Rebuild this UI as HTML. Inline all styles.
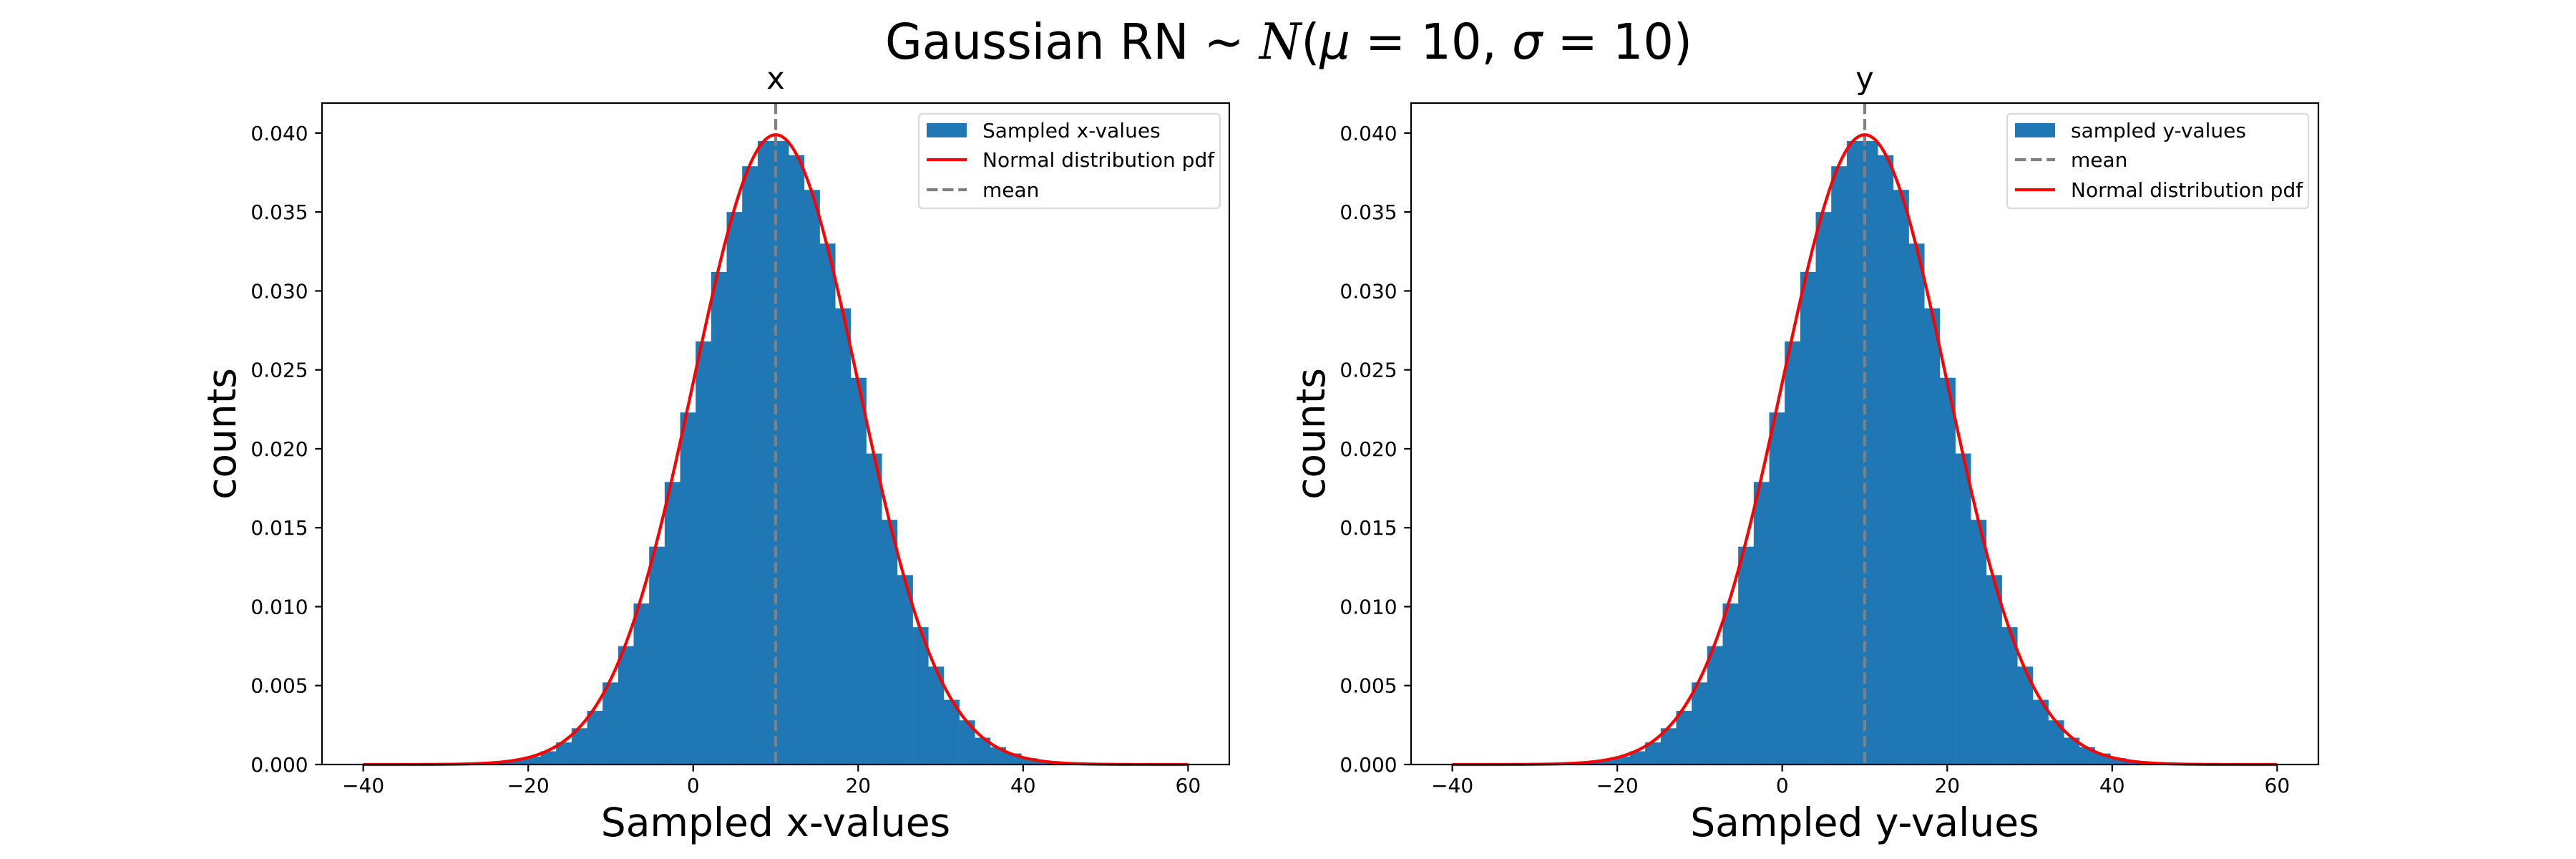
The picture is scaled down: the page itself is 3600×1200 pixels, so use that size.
<!DOCTYPE html>
<html><head><meta charset="utf-8">
<style>
html,body{margin:0;padding:0;background:#fff;}
svg{display:block;font-family:"DejaVu Sans","Liberation Sans",sans-serif;}
</style></head>
<body>
<svg id="fig" width="3600" height="1200" viewBox="0 0 3600 1200" xmlns="http://www.w3.org/2000/svg">
<rect x="0" y="0" width="3600" height="1200" fill="#fff"/>
<text x="1801" y="82" font-size="69" text-anchor="middle" textLength="1128" lengthAdjust="spacingAndGlyphs">Gaussian RN ~ <tspan font-family="DejaVu Serif, serif" font-style="italic">N</tspan>(<tspan font-style="italic">μ</tspan> = 10, <tspan font-style="italic">σ</tspan> = 10)</text>
</svg>
<script>
// ---- data ----
const binStart = -29.78;
const binWidth = 1.88;
const xHeights = [0.00003,0.00005,0.0001,0.00015,0.0003,
 0.0005,0.00084,0.0014,0.0023,0.0034,0.0052,0.0075,0.0102,0.0138,0.0179,0.0223,0.0268,0.0312,0.0350,0.0379,0.0395,0.0395,0.0386,0.0364,0.0330,0.0289,0.0245,0.0197,0.0155,0.0120,0.0087,0.0062,0.0041,0.0028,0.0017,0.0011,0.0007,0.0004,
 0.0002,0.00012,0.00007,0.00004,0.00002];
const yHeights = [0.00003,0.00005,0.0001,0.00015,0.0003,
 0.0005,0.00084,0.0014,0.0023,0.0034,0.0052,0.0075,0.0102,0.0138,0.0179,0.0223,0.0268,0.0312,0.0350,0.0379,0.0395,0.0395,0.0386,0.0364,0.0330,0.0289,0.0245,0.0197,0.0155,0.0120,0.0087,0.0062,0.0041,0.0028,0.0017,0.0011,0.0007,0.0004,
 0.0002,0.00012,0.00007,0.00004,0.00002];
const mu = [10];
const sigma = [10];
const pdfRange = [-40, 60];
const xTicks = [-40,-20,0,20,40,60];
const xTickLabels = ["\u221240","\u221220","0","20","40","60"];
const yTicks = [0,0.005,0.01,0.015,0.02,0.025,0.03,0.035,0.04];
const yTickLabels = ["0.000","0.005","0.010","0.015","0.020","0.025","0.030","0.035","0.040"];
const xDomain = [-45, 65];
const yDomain = [0, 0.0419];

const NS = "http://www.w3.org/2000/svg";
const fig = document.getElementById('fig');
function mk(tag, attrs, parent){
  const e = document.createElementNS(NS, tag);
  for (const k in attrs) e.setAttribute(k, attrs[k]);
  (parent||fig).appendChild(e);
  return e;
}

function panel(cfg){
  const L = cfg.left, R = cfg.left + 1268, T = 144, B = 1068;
  const sx = v => L + (v - xDomain[0]) / (xDomain[1]-xDomain[0]) * (R-L);
  const sy = v => B - (v - yDomain[0]) / (yDomain[1]-yDomain[0]) * (B-T);
  const g = mk('g', {});
  
  
  cfg.heights.forEach((h, i) => {
    const x0 = binStart + i*binWidth, x1 = x0 + binWidth;
    const r = mk('rect', {x: sx(x0), y: sy(h), width: sx(x1)-sx(x0)+0.3, height: B - sy(h), fill: '#1f77b4'}, g);
    
    
  });
  const ml = mk('line', {x1: sx(mu[0]), x2: sx(mu[0]), y1: T, y2: B, stroke: '#808080', 'stroke-width': 4.2, 'stroke-dasharray': '15.4 6.7'}, g);
  
  
  let d = '';
  const n = 400;
  for (let i = 0; i <= n; i++){
    const v = pdfRange[0] + (pdfRange[1]-pdfRange[0]) * i / n;
    const p = Math.exp(-0.5*Math.pow((v-mu[0])/sigma[0],2)) / (sigma[0]*Math.sqrt(2*Math.PI));
    d += (i ? 'L' : 'M') + sx(v).toFixed(2) + ',' + sy(p).toFixed(2);
  }
  const pl = mk('path', {d: d, fill: 'none', stroke: '#ff0000', 'stroke-width': 4.2, 'stroke-linejoin': 'round'}, g);
  
  
  const sp = mk('rect', {x: L, y: T, width: R-L, height: B-T, fill: 'none', stroke: '#000', 'stroke-width': 2.2}, g);
  
  
  xTicks.forEach((t, i) => {
    mk('line', {x1: sx(t), x2: sx(t), y1: B, y2: B+9.7, stroke: '#000', 'stroke-width': 2.2}, g);
    const tx = mk('text', {x: sx(t), y: 1107, 'font-size': 28, 'text-anchor': 'middle'}, g);
    
    
    tx.textContent = xTickLabels[i];
  });
  yTicks.forEach((t, i) => {
    mk('line', {x1: L-9.7, x2: L, y1: sy(t), y2: sy(t), stroke: '#000', 'stroke-width': 2.2}, g);
    const ty = mk('text', {x: L-19.4, y: sy(t)+10, 'font-size': 28, 'text-anchor': 'end'}, g);
    
    
    ty.textContent = yTickLabels[i];
  });
  const xl = mk('text', {x: (L+R)/2, y: 1168, 'font-size': 55, 'text-anchor': 'middle'}, g);
  
  
  xl.textContent = cfg.xlabel;
  const yl = mk('text', {x: 0, y: 0, 'font-size': 55, 'text-anchor': 'middle', transform: 'translate(' + (cfg.left-121) + ',' + ((T+B)/2) + ') rotate(-90)'}, g);
  
  
  yl.textContent = 'counts';
  const tt = mk('text', {x: (L+R)/2, y: 124, 'font-size': 43, 'text-anchor': 'middle'}, g);
  
  
  tt.textContent = cfg.title;
  const lg = mk('g', {}, g);
  
  
  mk('rect', {x: cfg.legX, y: 159, width: cfg.legW, height: 132, rx: 5, fill: '#fff', 'fill-opacity': 0.8, stroke: '#d9d9d9', 'stroke-width': 2.2}, lg);
  const rows = [182, 223, 265];
  cfg.legend.forEach((it, i) => {
    const hx = cfg.legX + 11, cy = rows[i];
    if (it.kind === 'patch') mk('rect', {x: hx, y: cy-10, width: 56, height: 20, fill: '#1f77b4'}, lg);
    else if (it.kind === 'red') mk('line', {x1: hx, x2: hx+56, y1: cy, y2: cy, stroke: '#ff0000', 'stroke-width': 4.2}, lg);
    else mk('line', {x1: hx, x2: hx+56, y1: cy, y2: cy, stroke: '#808080', 'stroke-width': 4.2, 'stroke-dasharray': '15.4 6.7'}, lg);
    const lt = mk('text', {x: hx+78, y: cy+10, 'font-size': 28}, lg);
    
    
    lt.textContent = it.label;
  });
}

panel({name: 'x', left: 450, heights: xHeights, xlabel: 'Sampled x-values', title: 'x', legX: 1284, legW: 421,
  legend: [{kind:'patch', label:'Sampled x-values'},{kind:'red', label:'Normal distribution pdf'},{kind:'dash', label:'mean'}]});
panel({name: 'y', left: 1972, heights: yHeights, xlabel: 'Sampled y-values', title: 'y', legX: 2805, legW: 421,
  legend: [{kind:'patch', label:'sampled y-values'},{kind:'dash', label:'mean'},{kind:'red', label:'Normal distribution pdf'}]});
</script>
</body></html>
